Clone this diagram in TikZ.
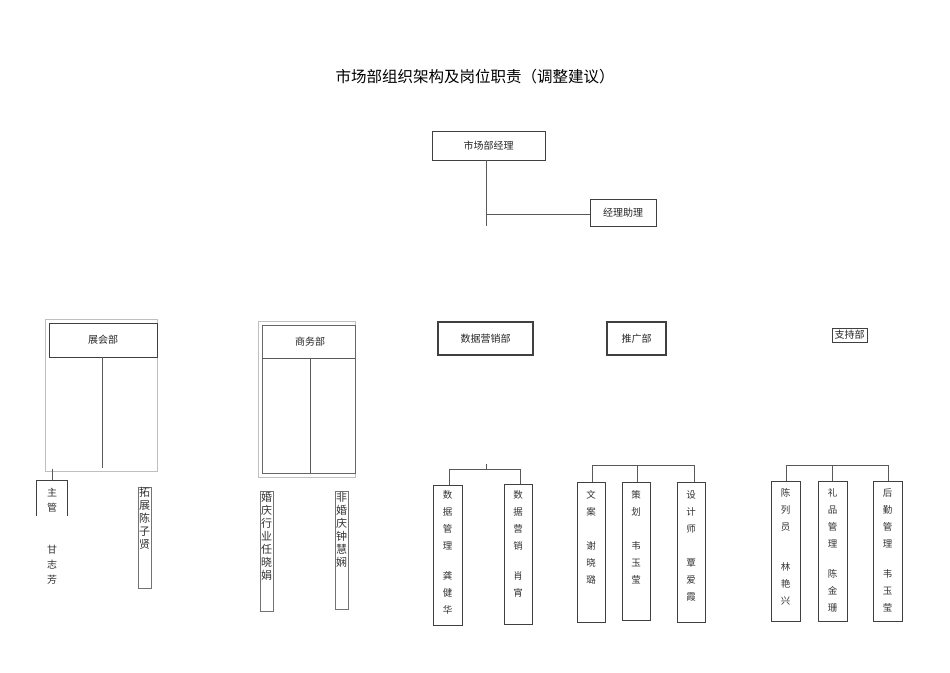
\documentclass[tikz,border=0pt]{standalone}
\usepackage{fontspec}
\setmainfont{Noto Sans CJK SC}
\begin{document}
\begin{tikzpicture}[x=1pt,y=-1pt,
  bx/.style={draw=black!75,line width=0.8pt},
  lbx/.style={draw=black!25,line width=0.8pt},
  ln/.style={draw=black!65,line width=0.7pt},
  lab/.style={font=\fontsize{10}{12}\selectfont,text=black!85,inner sep=0pt},
  vt/.style={font=\fontsize{9.5}{17}\selectfont,text=black!80,align=center,anchor=north,inner sep=0pt},
  vs/.style={font=\fontsize{11}{13}\selectfont,text=black!80,align=center,anchor=north,inner sep=0pt}]
\useasboundingbox (0,0) rectangle (950,672);
\fill[white] (0,0) rectangle (950,672);
\node[font=\fontsize{15.5}{17}\selectfont] (title) at (475,77) {市场部组织架构及岗位职责（调整建议）};
% top
\draw[bx] (432,131) rectangle (545,160);
\node[lab] (mgr) at (488.5,145.5) {市场部经理};
\draw[bx] (590,199) rectangle (656,226);
\node[lab] (asst) at (623,212.5) {经理助理};
\coordinate (m0) at (486,160);
\coordinate (m1) at (486,226);
\coordinate (m2) at (486,214);
\draw[ln] (m0) -- (m1);
\draw[ln] (m2) -- (590,214);
% 展会部
\draw[lbx] (45,319) rectangle (157,471);
\draw[bx] (49,323) rectangle (157,357);
\node[lab] (zh) at (103,340) {展会部};
\draw[ln] (102,357) -- (102,468);
\draw[ln] (52,469) -- (52,480);
\draw[bx] (36,516) -- (36,480) -- (67,480) -- (67,516);
\node[vs,font=\fontsize{10}{15}\selectfont] (zg) at (52,488) {主\\管};
\node[vt,font=\fontsize{10}{15}\selectfont] (gzf) at (52,545) {甘\\志\\芳};
\draw[bx,draw=black!55] (138,487) rectangle (151,588);
\node[vs] (tz) at (144.5,487) {拓\\展\\陈\\子\\贤};
% 商务部
\draw[lbx] (258,321) rectangle (355,477);
\draw[bx,draw=black!60] (262,325) rectangle (355,473);
\draw[ln] (262,358) -- (355,358);
\draw[ln] (310,358) -- (310,473);
\node[lab] (sw) at (310,342) {商务部};
\draw[bx,draw=black!55] (260,491) rectangle (273,611);
\node[vs] (hq) at (266.5,492) {婚\\庆\\行\\业\\任\\晓\\娟};
\draw[bx,draw=black!55] (335,491) rectangle (348,609);
\node[vs] (fhq) at (341.5,492) {非\\婚\\庆\\钟\\慧\\娴};
% 数据营销部
\draw[bx,line width=1.1pt] (438,322) rectangle (533,355);
\node[lab] (sj) at (485.5,338.5) {数据营销部};
\draw[bx,line width=1.1pt] (607,322) rectangle (666,355);
\node[lab] (tg) at (636.5,338.5) {推广部};
\draw[bx,line width=0.6pt] (832,328) rectangle (867,342);
\node[lab] (zc) at (849.5,335) {支持部};
% data children
\draw[ln] (486,464) -- (486,469);
\draw[ln] (449,485) -- (449,469) -- (520,469) -- (520,484);
\draw[bx] (433,485) rectangle (462,625);
\node[vt] (d1) at (447.5,490) {数\\据\\管\\理\\[-4pt]\\龚\\健\\华};
\draw[bx] (504,484) rectangle (532,624);
\node[vt] (d2) at (518,490) {数\\据\\营\\销\\[-4pt]\\肖\\宵};
% promotion children
\draw[ln] (592,482) -- (592,465) -- (694,465) -- (694,482);
\draw[ln] (637,465) -- (637,482);
\draw[bx] (577,482) rectangle (605,622);
\node[vt] (p1) at (591,490) {文\\案\\\\谢\\晓\\璐};
\draw[bx] (622,482) rectangle (650,620);
\node[vt] (p2) at (636,490) {策\\划\\\\韦\\玉\\莹};
\draw[bx] (677,482) rectangle (705,622);
\node[vt] (p3) at (691,490) {设\\计\\师\\\\覃\\爱\\霞};
% support children
\draw[ln] (786,481) -- (786,465) -- (888,465) -- (888,481);
\draw[ln] (832,465) -- (832,481);
\draw[bx] (771,481) rectangle (800,621);
\node[vt] (s1) at (785.5,488) {陈\\列\\员\\[6pt]\\林\\艳\\兴};
\draw[bx] (818,481) rectangle (847,621);
\node[vt] (s2) at (832.5,488) {礼\\品\\管\\理\\[-4pt]\\陈\\金\\珊};
\draw[bx] (873,481) rectangle (902,621);
\node[vt] (s3) at (887.5,488) {后\\勤\\管\\理\\[-4pt]\\韦\\玉\\莹};
\end{tikzpicture}
\end{document}
